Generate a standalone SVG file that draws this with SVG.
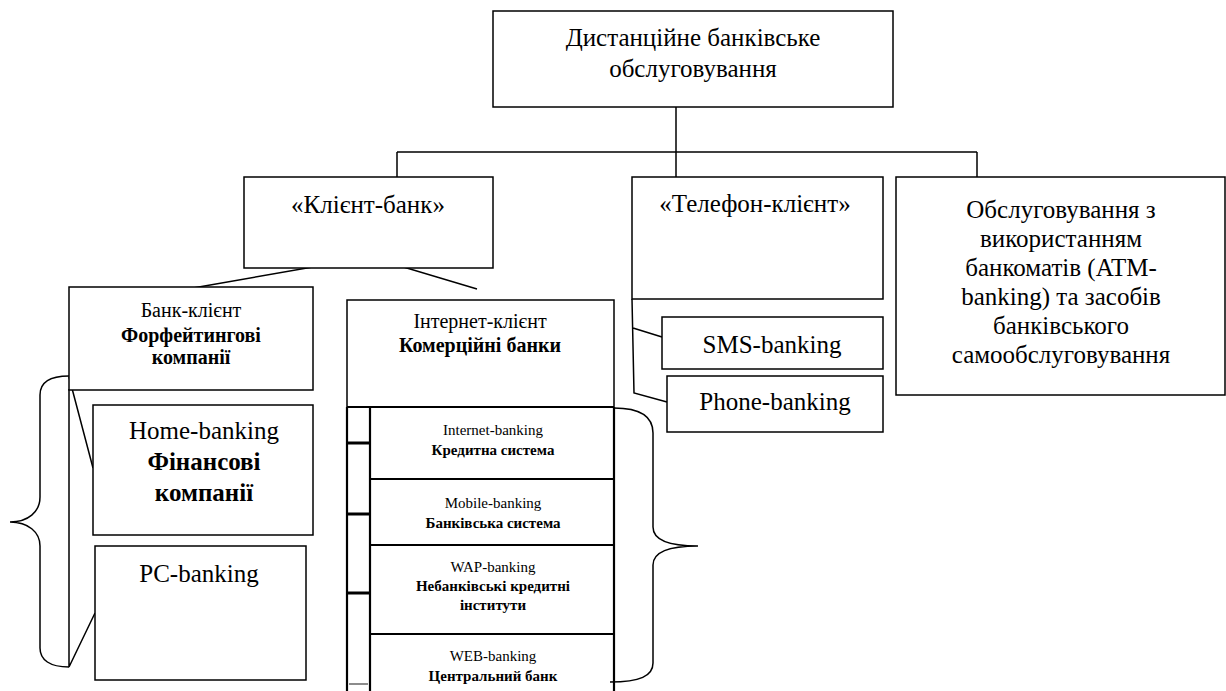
<svg xmlns="http://www.w3.org/2000/svg" width="1226" height="691" viewBox="0 0 1226 691">
<style>
.box{fill:#fff;stroke:#000;stroke-width:1.5}
.ln{fill:none;stroke:#000;stroke-width:1.5}
.th{fill:none;stroke:#000;stroke-width:2.2}
.tk{fill:none;stroke:#000;stroke-width:3}
text{font-family:"Liberation Serif","Times New Roman",serif;fill:#000;text-anchor:middle}
.L{font-size:25px}
.M{font-size:20px}
.S{font-size:15px}
.b{font-weight:bold}
</style>
<rect width="1226" height="691" fill="#fff"/>
<g id="connectors">
<path class="ln" d="M676,107 V152 M397,152 H977 M397,152 V177 M676,152 V177 M977,152 V177"/>
<path class="ln" d="M193,288 L370,257 L477,289"/>
<path class="ln" d="M69,377 L93,468 M69,389 V667 L95,613"/>
<path class="ln" d="M69,376 C50,376 40,382 40,395 L40,497 C40,512 28,522 10,522 C28,522 40,532 40,546 L40,648 C40,660 50,667 69,667"/>
<path class="ln" d="M614,408 C640,408 653,416 653,433 L653,527 C653,540 670,546 698,546 C670,546 653,552 653,565 L653,663 C653,676 640,682 610,682"/>
<path class="ln" d="M632,299 L634,393 L667,402 M633,328 L662,337"/>
</g>
<g id="root">
<rect class="box" x="493" y="11" width="400" height="96"/>
<text class="L" x="693" y="46">Дистанційне банківське</text>
<text class="L" x="693" y="77">обслуговування</text>
</g>
<g id="client-bank">
<rect class="box" x="244" y="177" width="249" height="91"/>
<text class="L" x="368" y="213">«Клієнт-банк»</text>
</g>
<g id="phone-client">
<rect class="box" x="632" y="177" width="251" height="122"/>
<text class="L" x="755" y="212">«Телефон-клієнт»</text>
</g>
<g id="atm">
<rect class="box" x="896" y="177" width="329" height="218"/>
<text class="L" x="1061" y="218">Обслуговування з</text>
<text class="L" x="1061" y="247">використанням</text>
<text class="L" x="1061" y="276">банкоматів (ATM-</text>
<text class="L" x="1061" y="305">banking) та засобів</text>
<text class="L" x="1061" y="334">банківського</text>
<text class="L" x="1061" y="363">самообслуговування</text>
</g>
<g id="sms">
<rect class="box" x="662" y="317" width="221" height="52"/>
<text class="L" x="772" y="353">SMS-banking</text>
</g>
<g id="phone-banking">
<rect class="box" x="667" y="376" width="216" height="56"/>
<text class="L" x="775" y="410">Phone-banking</text>
</g>
<g id="bank-client">
<rect class="box" x="69" y="287" width="244" height="103"/>
<text class="M" x="191" y="317">Банк-клієнт</text>
<text class="M b" x="191" y="342">Форфейтингові</text>
<text class="M b" x="191" y="364">компанії</text>
</g>
<g id="home-banking">
<rect class="box" x="93" y="405" width="220" height="130"/>
<text class="L" x="204" y="439">Home-banking</text>
<text class="L b" x="204" y="470">Фінансові</text>
<text class="L b" x="204" y="501">компанії</text>
</g>
<g id="pc-banking">
<rect class="box" x="95" y="546" width="211" height="134"/>
<text class="L" x="199" y="582">PC-banking</text>
</g>
<g id="internet-client">
<rect class="box" x="347" y="300" width="267" height="107"/>
<text class="M" x="480" y="328">Інтернет-клієнт</text>
<text class="M b" x="480" y="352">Комерційні банки</text>
<path class="th" d="M347,407 V691 M614,407 V691 M370,407 V691 M347,407 H614"/>
<path class="tk" d="M347,443 H370 M347,514 H370 M347,593 H370"/>
<path d="M349,684 H368" stroke="#666" stroke-width="1.5"/>
</g>
<g id="internet-banking">
<path class="th" d="M370,479 H614"/>
<text class="S" x="493" y="435">Internet-banking</text>
<text class="S b" x="493" y="455">Кредитна система</text>
</g>
<g id="mobile-banking">
<path class="th" d="M370,545 H614"/>
<text class="S" x="493" y="508">Mobile-banking</text>
<text class="S b" x="493" y="528">Банківська система</text>
</g>
<g id="wap-banking">
<path class="th" d="M370,634 H614"/>
<text class="S" x="493" y="572">WAP-banking</text>
<text class="S b" x="493" y="591">Небанківські кредитні</text>
<text class="S b" x="493" y="610">інститути</text>
</g>
<g id="web-banking">
<text class="S" x="493" y="661">WEB-banking</text>
<text class="S b" x="493" y="681">Центральний банк</text>
</g>
</svg>
